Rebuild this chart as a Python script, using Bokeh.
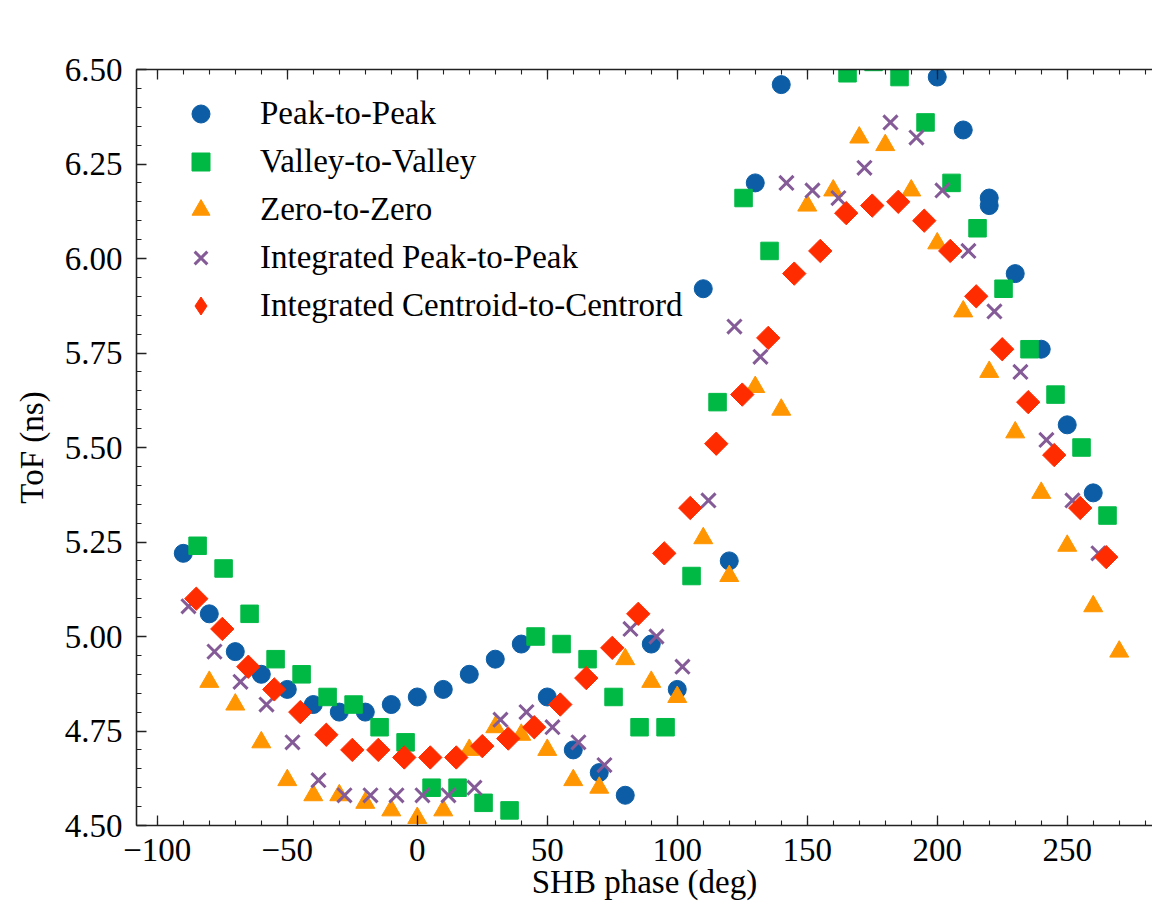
from bokeh.plotting import figure
from bokeh.models import (Range1d, LinearAxis, SingleIntervalTicker, PrintfTickFormatter,
                          Legend, LegendItem)
from bokeh.embed import file_html
from bokeh.resources import INLINE
import math

# ---- data ----
p2p_x = [-90, -80, -70, -60, -50, -40, -30, -20, -10, 0, 10, 20, 30, 40, 50, 60, 70, 80, 90, 100,
         110, 120, 130, 140, 200, 210, 220, 220, 230, 240, 250, 260]
p2p_y = [5.22, 5.06, 4.96, 4.90, 4.86, 4.82, 4.80, 4.80, 4.82, 4.84, 4.86, 4.90, 4.94, 4.98, 4.84,
         4.70, 4.64, 4.58, 4.98, 4.86, 5.92, 5.20, 6.20, 6.46, 6.48, 6.34, 6.16, 6.14, 5.96, 5.76,
         5.56, 5.38]

v2v_x = [-84.5, -74.5, -64.5, -54.5, -44.5, -34.5, -24.5, -14.5, -4.5, 5.5, 15.5, 25.5, 35.5, 45.5,
         55.5, 65.5, 75.5, 85.5, 95.5, 105.5, 115.5, 125.5, 135.5, 165.5, 175.5, 185.5, 195.5,
         205.5, 215.5, 225.5, 235.5, 245.5, 255.5, 265.5]
v2v_y = [5.24, 5.18, 5.06, 4.94, 4.90, 4.84, 4.82, 4.76, 4.72, 4.60, 4.60, 4.56, 4.54, 5.00, 4.98,
         4.94, 4.84, 4.76, 4.76, 5.16, 5.62, 6.16, 6.02, 6.49, 6.52, 6.48, 6.36, 6.20, 6.08, 5.92,
         5.76, 5.64, 5.50, 5.32]

z2z_x = [-80, -70, -60, -50, -40, -30, -20, -10, 0, 10, 20, 30, 40, 50, 60, 70, 80, 90, 100, 110,
         120, 130, 140, 150, 160, 170, 180, 190, 200, 210, 220, 230, 240, 250, 260, 270]
z2z_y = [4.88, 4.82, 4.72, 4.62, 4.58, 4.58, 4.56, 4.54, 4.52, 4.54, 4.70, 4.76, 4.74, 4.70, 4.62,
         4.60, 4.94, 4.88, 4.84, 5.26, 5.16, 5.66, 5.60, 6.14, 6.18, 6.32, 6.30, 6.18, 6.04, 5.86,
         5.70, 5.54, 5.38, 5.24, 5.08, 4.96]

ip2p_x = [-88, -78, -68, -58, -48, -38, -28, -18, -8, 2, 12, 22, 32, 42, 52, 62, 72, 82, 92, 102,
          112, 122, 132, 142, 152, 162, 172, 182, 192, 202, 212, 222, 232, 242, 252, 262]
ip2p_y = [5.08, 4.96, 4.88, 4.82, 4.72, 4.62, 4.58, 4.58, 4.58, 4.58, 4.58, 4.60, 4.78, 4.80, 4.76,
          4.72, 4.66, 5.02, 5.00, 4.92, 5.36, 5.82, 5.74, 6.20, 6.18, 6.16, 6.24, 6.36, 6.32, 6.18,
          6.02, 5.86, 5.70, 5.52, 5.36, 5.22]

ic2c_x = [-85, -75, -65, -55, -45, -35, -25, -15, -5, 5, 15, 25, 35, 45, 55, 65, 75, 85, 95, 105,
          115, 125, 135, 145, 155, 165, 175, 185, 195, 205, 215, 225, 235, 245, 255, 265]
ic2c_y = [5.10, 5.02, 4.92, 4.86, 4.80, 4.74, 4.70, 4.70, 4.68, 4.68, 4.68, 4.71, 4.73, 4.76, 4.82,
          4.89, 4.97, 5.06, 5.22, 5.34, 5.51, 5.64, 5.79, 5.96, 6.02, 6.12, 6.14, 6.15, 6.10, 6.02,
          5.90, 5.76, 5.62, 5.48, 5.34, 5.21]

labels = ["Peak-to-Peak", "Valley-to-Valley", "Zero-to-Zero",
          "Integrated Peak-to-Peak", "Integrated Centroid-to-Centrord"]
x_ticks_override = {-100: "\u2212100", -50: "\u221250"}
x_label = "SHB phase (deg)"
y_label = "ToF (ns)"

# ---- styling ----
FONT = "Liberation Serif"
FS = "33px"
BLUE, GREEN, ORANGE, PURPLE, RED = "#0C5DA5", "#00B945", "#FF9500", "#845B97", "#FF2C00"

p = figure(width=1152, height=902, output_backend="svg", toolbar_location=None,
           x_range=Range1d(-108, 282.8), y_range=Range1d(4.5, 6.5),
           min_border_left=136, min_border_right=0, min_border_top=69, min_border_bottom=77,
           title=None)
p.outline_line_color = None
p.xgrid.visible = False
p.ygrid.visible = False
p.background_fill_color = "white"
p.border_fill_color = "white"

def style_axis(ax):
    ax.axis_line_color = "#222222"
    ax.axis_line_width = 1.6
    ax.major_tick_line_color = "#222222"
    ax.minor_tick_line_color = "#222222"
    ax.major_tick_line_width = 1.3
    ax.minor_tick_line_width = 1.1
    ax.major_tick_in = 10
    ax.major_tick_out = 0
    ax.minor_tick_in = 5
    ax.minor_tick_out = 0
    ax.major_label_text_font = FONT
    ax.major_label_text_font_size = FS
    ax.major_label_text_color = "black"
    ax.axis_label_text_font = FONT
    ax.axis_label_text_font_size = FS
    ax.axis_label_text_font_style = "normal"
    ax.axis_label_text_color = "black"

xa = p.xaxis[0]
ya = p.yaxis[0]
xa.ticker = SingleIntervalTicker(interval=50, num_minor_ticks=5)
ya.ticker = SingleIntervalTicker(interval=0.25, num_minor_ticks=5)
ya.formatter = PrintfTickFormatter(format="%.2f")
xa.major_label_overrides = x_ticks_override
style_axis(xa)
style_axis(ya)
xa.axis_label = x_label
ya.axis_label = y_label
xa.major_label_standoff = 13
xa.axis_label_standoff = 0
ya.major_label_standoff = 14
ya.axis_label_standoff = 12

top = LinearAxis(ticker=SingleIntervalTicker(interval=50, num_minor_ticks=5))
style_axis(top)
top.major_label_text_font_size = "0px"
top.major_label_text_color = None
top.major_label_standoff = 0
p.add_layout(top, "above")

r1 = p.scatter(p2p_x, p2p_y, marker="circle", size=18, fill_color=BLUE, line_color=BLUE)
r2 = p.scatter(v2v_x, v2v_y, marker="square", size=17.5, fill_color=GREEN, line_color=GREEN)
r3 = p.scatter(z2z_x, z2z_y, marker="triangle", size=19, fill_color=ORANGE, line_color=ORANGE)
r4 = p.scatter(ip2p_x, ip2p_y, marker="x", size=20, line_color=PURPLE, line_width=3)
r5 = p.scatter(ic2c_x, ic2c_y, marker="square", size=16.5, angle=math.pi / 4,
               fill_color=RED, line_color=RED)
# hidden twin used only as the legend key (Bokeh never rotates legend keys)
r5_key = p.scatter(ic2c_x, ic2c_y, marker="diamond", size=20, fill_color=RED, line_color=RED,
                   visible=False)

legend = Legend(items=[LegendItem(label=l, renderers=[r])
                       for l, r in zip(labels, [r1, r2, r3, r4, r5_key])],
                location=(42, 497))
legend.glyph_width = 45
legend.glyph_height = 45
legend.label_height = 45
legend.spacing = 3
legend.padding = 0
legend.margin = 0
legend.label_standoff = 37
legend.border_line_color = None
legend.background_fill_alpha = 0
legend.label_text_font = FONT
legend.label_text_font_size = FS
legend.label_text_color = "black"
p.add_layout(legend)

open("out.html", "w").write(file_html(p, INLINE))
